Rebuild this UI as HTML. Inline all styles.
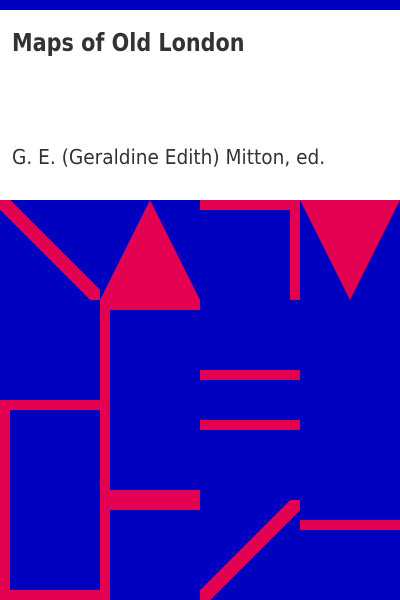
<!DOCTYPE html>
<html><head><meta charset="utf-8"><style>
body{margin:0;width:400px;height:600px;overflow:hidden;background:#fff;font-family:"DejaVu Sans","Liberation Sans",sans-serif}
#top{position:absolute;left:0;top:0;width:400px;height:10px;background:#0000c0}
#title{position:absolute;left:12px;top:28px;font-size:25px;font-weight:bold;color:#333;transform:scaleX(0.83);transform-origin:left}
#author{position:absolute;left:12px;top:145px;font-size:20px;color:#333;transform:scaleX(0.927);transform-origin:left;white-space:nowrap}
svg{position:absolute;left:0;top:200px}
</style></head><body>
<div id="top"></div>
<div id="title">Maps of Old London</div>
<div id="author">G. E. (Geraldine Edith) Mitton, ed.</div>
<svg width="400" height="400" viewBox="0 200 400 400" shape-rendering="crispEdges">
<rect x="0" y="200" width="400" height="400" fill="#0000c0"/>
<g fill="#e40050">
<polygon points="0,200 10,200 100,290 100,300 90,300 0,210"/>
<polygon points="150,200 200,300 200,310 100,310 100,300"/>
<rect x="100" y="300" width="10" height="300"/>
<path d="M0,400H110V600H0Z M10,410V590H100V410Z" fill-rule="evenodd"/>
<rect x="110" y="490" width="90" height="20"/>
<rect x="200" y="200" width="100" height="10"/>
<rect x="290" y="200" width="10" height="100"/>
<polygon points="300,200 400,200 350,300"/>
<rect x="200" y="370" width="100" height="10"/>
<rect x="200" y="420" width="100" height="10"/>
<polygon points="290,500 300,500 300,510 210,600 200,600 200,590"/>
<rect x="300" y="520" width="100" height="10"/>
</g>
</svg>
</body></html>
